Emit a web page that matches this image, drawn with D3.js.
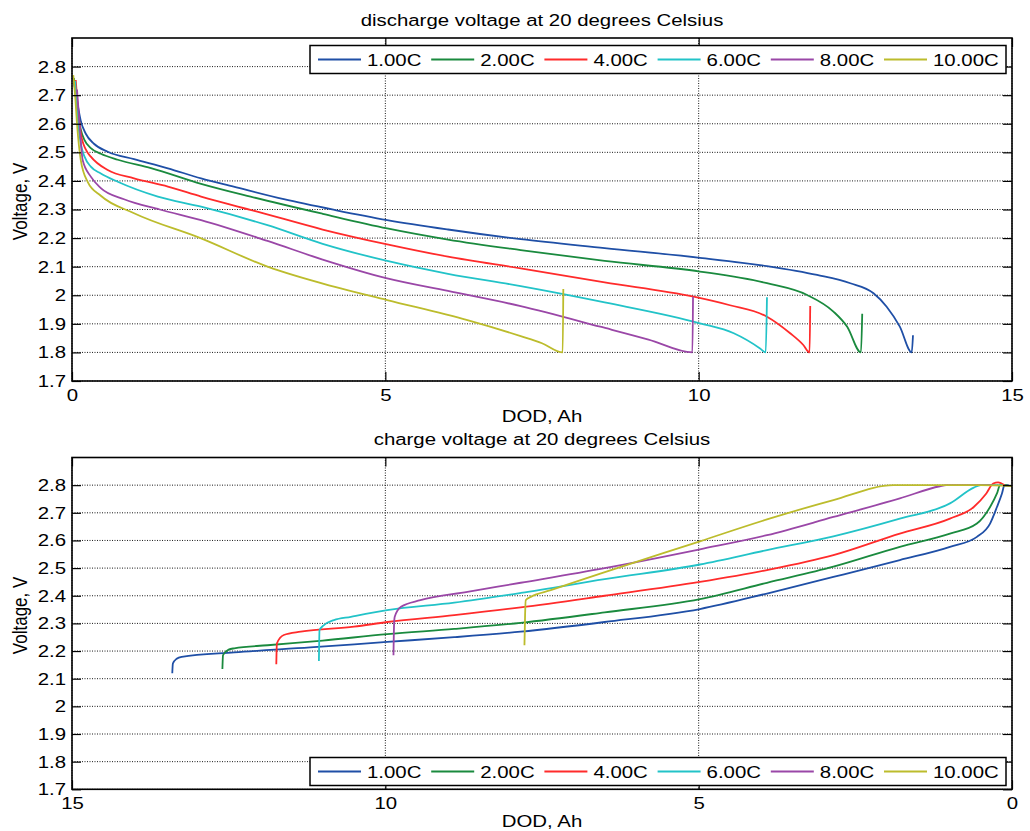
<!DOCTYPE html>
<html>
<head>
<meta charset="utf-8">
<script src="https://cdn.jsdelivr.net/npm/d3@7"></script>
<style>
  body { margin: 0; background: #fff; }
  text { font-family: "Liberation Sans", Arial, sans-serif; fill: #000; }
</style>
</head>
<body>
<div id="chart"></div>
<script>
// legend labels and line colours
var rates = ["1.00C", "2.00C", "4.00C", "6.00C", "8.00C", "10.00C"];
var colors = ["#1f4fa6", "#1a8a3e", "#ff2b2b", "#22c3c8", "#9a47a7", "#bcbc2c"];

// tick values
var xTicks = [0, 5, 10, 15];
var yTicks = [1.7, 1.8, 1.9, 2.0, 2.1, 2.2, 2.3, 2.4, 2.5, 2.6, 2.7, 2.8];

// discharge curves, [DOD Ah, voltage V]
var dis1C = [[0.02,2.76],[0.08,2.68],[0.14,2.61],[0.22,2.565],[0.35,2.53],[0.57,2.502],[0.99,2.476],[1.53,2.444],[2.06,2.409],[2.58,2.38],[3.38,2.336],[4.2,2.298],[5.03,2.263],[6.0,2.23],[7.16,2.196],[8.5,2.165],[10.02,2.131],[11.09,2.102],[11.89,2.071],[12.42,2.042],[12.79,2.007],[13.0,1.96],[13.21,1.89],[13.40,1.80],[13.42,1.86]];
var dis2C = [[0.03,2.76],[0.08,2.66],[0.14,2.58],[0.2,2.543],[0.3,2.515],[0.46,2.495],[0.73,2.474],[1.26,2.445],[2.06,2.39],[2.85,2.345],[4.0,2.285],[5.03,2.234],[6.0,2.195],[7.16,2.158],[8.5,2.12],[10.02,2.083],[11.09,2.042],[11.73,2.001],[12.15,1.943],[12.37,1.89],[12.59,1.80],[12.61,1.935]];
var dis4C = [[0.06,2.753],[0.1,2.64],[0.14,2.567],[0.22,2.51],[0.3,2.485],[0.57,2.438],[0.99,2.409],[1.53,2.38],[2.06,2.345],[3.0,2.29],[4.0,2.23],[5.03,2.178],[6.0,2.135],[7.16,2.094],[8.5,2.045],[9.92,1.995],[10.5,1.965],[11.09,1.925],[11.46,1.867],[11.67,1.826],[11.77,1.80],[11.78,1.962]];
var dis6C = [[0.05,2.75],[0.09,2.62],[0.14,2.53],[0.2,2.485],[0.3,2.45],[0.46,2.426],[0.73,2.397],[1.37,2.345],[2.06,2.31],[3.12,2.245],[4.0,2.18],[5.03,2.12],[6.0,2.075],[7.16,2.032],[8.5,1.975],[10.02,1.902],[10.56,1.867],[10.98,1.814],[11.07,1.80],[11.09,1.993]];
var dis8C = [[0.08,2.72],[0.12,2.6],[0.17,2.473],[0.3,2.415],[0.46,2.375],[0.83,2.336],[1.4,2.3],[2.06,2.263],[3.12,2.19],[4.0,2.125],[5.03,2.059],[6.0,2.015],[7.16,1.962],[8.43,1.89],[9.2,1.845],[9.9,1.80],[9.91,1.995]];
var dis10C = [[0.02,2.77],[0.05,2.7],[0.08,2.6],[0.14,2.473],[0.25,2.397],[0.46,2.348],[0.99,2.287],[2.06,2.199],[3.12,2.1],[4.18,2.03],[5.03,1.983],[6.31,1.913],[7.16,1.857],[7.5,1.832],[7.83,1.80],[7.84,2.022]];

// charge curves, [DOD Ah, voltage V]
var chg1C = [[13.40,2.12],[13.39,2.155],[13.33,2.172],[13.25,2.179],[12.41,2.195],[11.2,2.213],[9.97,2.233],[8.9,2.25],[7.84,2.27],[6.5,2.305],[4.98,2.352],[3.91,2.408],[2.85,2.468],[1.79,2.529],[0.99,2.577],[0.56,2.613],[0.35,2.661],[0.24,2.721],[0.16,2.77],[0.12,2.80],[0.05,2.80]];
var chg2C = [[12.60,2.135],[12.59,2.185],[12.5,2.205],[12.41,2.21],[11.88,2.221],[11.0,2.238],[9.97,2.261],[8.9,2.28],[7.84,2.302],[6.5,2.34],[4.98,2.388],[3.91,2.447],[2.85,2.505],[1.79,2.577],[0.99,2.625],[0.56,2.661],[0.35,2.721],[0.24,2.77],[0.19,2.80],[0.08,2.80]];
var chg4C = [[11.74,2.152],[11.73,2.228],[11.62,2.258],[11.35,2.27],[10.5,2.288],[9.97,2.305],[8.9,2.33],[7.84,2.358],[6.5,2.4],[4.98,2.45],[3.91,2.493],[2.85,2.547],[1.79,2.625],[0.99,2.679],[0.61,2.721],[0.41,2.77],[0.3,2.806],[0.22,2.81],[0.12,2.80]];
var chg6C = [[11.06,2.164],[11.05,2.276],[11.0,2.29],[10.82,2.312],[10.55,2.324],[9.97,2.348],[8.9,2.375],[7.84,2.41],[6.5,2.46],[4.98,2.513],[3.91,2.565],[2.85,2.615],[1.79,2.679],[0.99,2.734],[0.61,2.791],[0.5,2.80],[0.15,2.80]];
var chg8C = [[9.87,2.185],[9.86,2.3],[9.85,2.324],[9.75,2.36],[9.44,2.384],[8.69,2.414],[7.84,2.447],[6.5,2.5],[4.98,2.568],[3.91,2.619],[2.85,2.685],[1.79,2.752],[1.15,2.796],[1.05,2.80],[0.3,2.80]];
var chg10C = [[7.78,2.221],[7.77,2.33],[7.76,2.384],[7.68,2.396],[7.36,2.42],[6.57,2.48],[4.98,2.597],[3.91,2.676],[2.85,2.746],[1.89,2.80],[0.5,2.80],[0.0,2.797]];

var dischargeSeries = [dis1C, dis2C, dis4C, dis6C, dis8C, dis10C];
var chargeSeries = [chg1C, chg2C, chg4C, chg6C, chg8C, chg10C];

var width = 1030, height = 831;
var left = 72, right = 1012;
var SX = 1.2;      // text in the picture is a bit wide
var fontSize = 17;

var panels = [
    { title: "discharge voltage at 20 degrees Celsius", series: dischargeSeries,
      xDomain: [0, 15], top: 38, bottom: 381, titleY: 25.7, legendY: 45.5, xlabY: 421.5 },
    { title: "charge voltage at 20 degrees Celsius", series: chargeSeries,
      xDomain: [15, 0], top: 457.5, bottom: 789.3, titleY: 445, legendY: 757.5, xlabY: 826.5 }
];

var svg = d3.select("#chart")
    .append("svg")
    .attr("width", width)
    .attr("height", height);

function label(g, x, y, txt, anchor, rot) {
    return g.append("text")
        .attr("transform", "translate(" + x + "," + y + ") scale(" + SX + ",1)" + (rot ? " rotate(-90)" : ""))
        .attr("text-anchor", anchor || "middle")
        .attr("font-size", fontSize)
        .text(txt);
}

var fmt = function (d) { return String(+d.toFixed(1)); };

panels.forEach(function (p) {
    var g = svg.append("g");

    var x = d3.scaleLinear().domain(p.xDomain).range([left, right]);
    var y = d3.scaleLinear().domain([1.7, 2.9]).range([p.bottom, p.top]);

    // grid
    g.append("g").selectAll("line")
        .data(xTicks)
        .enter().append("line")
        .attr("x1", function (d) { return x(d); })
        .attr("x2", function (d) { return x(d); })
        .attr("y1", p.top)
        .attr("y2", p.bottom)
        .attr("stroke", "#000")
        .attr("stroke-width", 1)
        .attr("stroke-dasharray", "1,1.5")
        .attr("opacity", 0.9);
    g.append("g").selectAll("line")
        .data(yTicks)
        .enter().append("line")
        .attr("x1", left)
        .attr("x2", right)
        .attr("y1", function (d) { return y(d); })
        .attr("y2", function (d) { return y(d); })
        .attr("stroke", "#000")
        .attr("stroke-width", 1)
        .attr("stroke-dasharray", "1,1.5")
        .attr("opacity", 0.9);

    // curves (pixel x always increases along each series)
    var line = d3.line()
        .x(function (d) { return x(d[0]); })
        .y(function (d) { return y(d[1]); })
        .curve(d3.curveMonotoneX);

    g.append("g").selectAll("path")
        .data(p.series)
        .enter().append("path")
        .attr("d", line)
        .attr("fill", "none")
        .attr("stroke", function (d, i) { return colors[i]; })
        .attr("stroke-width", 1.8);

    // axes, ticks pointing inward
    var xb = g.append("g")
        .attr("transform", "translate(0," + p.bottom + ")")
        .call(d3.axisBottom(x).tickValues(xTicks).tickSize(-9).tickPadding(8).tickFormat(d3.format("d")));
    var yl = g.append("g")
        .attr("transform", "translate(" + left + ",0)")
        .call(d3.axisLeft(y).tickValues(yTicks).tickSize(-9).tickPadding(5).tickFormat(fmt));
    g.append("g")
        .attr("transform", "translate(0," + p.top + ")")
        .call(d3.axisTop(x).tickValues(xTicks).tickSize(-9).tickFormat(""));
    g.append("g")
        .attr("transform", "translate(" + right + ",0)")
        .call(d3.axisRight(y).tickValues(yTicks).tickSize(-9).tickFormat(""));

    g.selectAll(".domain").remove();
    g.selectAll(".tick line").attr("stroke", "#000").attr("stroke-width", 1.2);
    [xb, yl].forEach(function (a) {
        a.selectAll("text")
            .attr("font-size", fontSize)
            .attr("font-family", "Liberation Sans, Arial, sans-serif")
            .attr("fill", "#000")
            .attr("transform", "scale(" + SX + ",1)");
    });
    yl.selectAll("text").attr("x", -5);

    // frame
    g.append("rect")
        .attr("x", left)
        .attr("y", p.top)
        .attr("width", right - left)
        .attr("height", p.bottom - p.top)
        .attr("fill", "none")
        .attr("stroke", "#000")
        .attr("stroke-width", 1.6);

    // titles and labels
    label(g, (left + right) / 2, p.titleY, p.title);
    label(g, (left + right) / 2, p.xlabY, "DOD, Ah");
    label(g, 27, (p.top + p.bottom) / 2 - 8, "Voltage, V", "middle", true);

    // legend
    var lg = g.append("g").attr("transform", "translate(0," + p.legendY + ")");
    lg.append("rect")
        .attr("x", 310)
        .attr("y", 0)
        .attr("width", 696)
        .attr("height", 28)
        .attr("fill", "#fff")
        .attr("stroke", "#000")
        .attr("stroke-width", 1.5);
    rates.forEach(function (r, i) {
        var x0 = 318 + i * 113.2;
        lg.append("line")
            .attr("x1", x0).attr("x2", x0 + 43)
            .attr("y1", 14).attr("y2", 14)
            .attr("stroke", colors[i])
            .attr("stroke-width", 1.8);
        label(lg, x0 + 49, 20, r, "start");
    });
});
</script>
</body>
</html>
